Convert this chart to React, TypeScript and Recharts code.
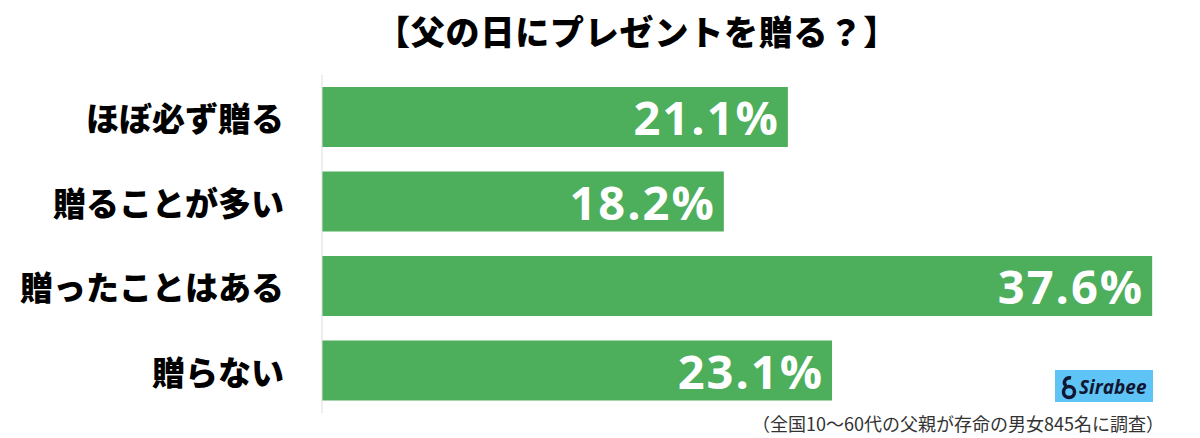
import React from 'react';
import { BarChart, Bar, XAxis, YAxis, LabelList } from 'recharts';

const categories = ['ほぼ必ず贈る', '贈ることが多い', '贈ったことはある', '贈らない'];
const values = [21.1, 18.2, 37.6, 23.1];
const title = '【父の日にプレゼントを贈る？】';
const note = '（全国10〜60代の父親が存命の男女845名に調査）';
const brand = 'Sirabee';

const data = categories.map((name, i) => ({ name, value: values[i] }));

const JP = '"Noto Sans CJK JP", "Noto Sans", sans-serif';

const CategoryTick = (props: any) => {
  const { y, payload } = props;
  return (
    <text
      x={284}
      y={y}
      textAnchor="end"
      dominantBaseline="central"
      fontFamily={JP}
      fontSize={33}
      fontWeight={900}
      fill="#000"
    >
      {payload.value}
    </text>
  );
};

const ValueLabel = (props: any) => {
  const { x, y, width, height, value } = props;
  return (
    <text
      x={x + width - 8}
      y={y + height / 2}
      textAnchor="end"
      dominantBaseline="central"
      fontFamily='"Open Sans", sans-serif'
      fontSize={47}
      fontWeight={700}
      letterSpacing={2}
      fill="#fff"
    >
      {`${value.toFixed(1)}%`}
    </text>
  );
};

export default function App() {
  return (
    <div style={{ position: 'absolute', left: 0, top: 0, width: 1200, height: 438, background: '#fff' }}>
      <BarChart
        width={1200}
        height={438}
        data={data}
        layout="vertical"
        margin={{ top: 75, right: 39, bottom: 25, left: 0 }}
      >
        <XAxis type="number" domain={[0, 38]} hide />
        <YAxis
          type="category"
          dataKey="name"
          width={322}
          axisLine={{ stroke: '#dddddd' }}
          tickLine={false}
          tick={<CategoryTick />}
          interval={0}
        />
        <Bar dataKey="value" fill="#4dae5b" barSize={60} isAnimationActive={false}>
          <LabelList dataKey="value" content={<ValueLabel />} />
        </Bar>
      </BarChart>
      <svg
        width={1200}
        height={438}
        style={{ position: 'absolute', left: 0, top: 0, pointerEvents: 'none' }}
      >
        <text
          x={637}
          y={30}
          textAnchor="middle"
          dominantBaseline="central"
          fontFamily={JP}
          fontSize={34}
          fontWeight={900}
          letterSpacing={0.8}
          fill="#000"
        >
          {title}
        </text>
        <rect x={1055} y={370} width={98} height={32} fill="#5ec4f6" />
        <circle cx={1069} cy={392} r={5.5} fill="none" stroke="#111633" strokeWidth={3.5} />
        <path d="M1066 386 C1062 382 1066 377 1071 378" fill="none" stroke="#111633" strokeWidth={3.5} />
        <text
          x={1079}
          y={387}
          dominantBaseline="central"
          fontFamily='"Open Sans", sans-serif'
          fontStyle="italic"
          fontWeight={700}
          fontSize={19}
          fill="#111633"
        >
          {brand}
        </text>
        <text
          x={1164}
          y={423}
          textAnchor="end"
          dominantBaseline="central"
          fontFamily={JP}
          fontSize={18}
          fill="#333"
        >
          {note}
        </text>
      </svg>
    </div>
  );
}
